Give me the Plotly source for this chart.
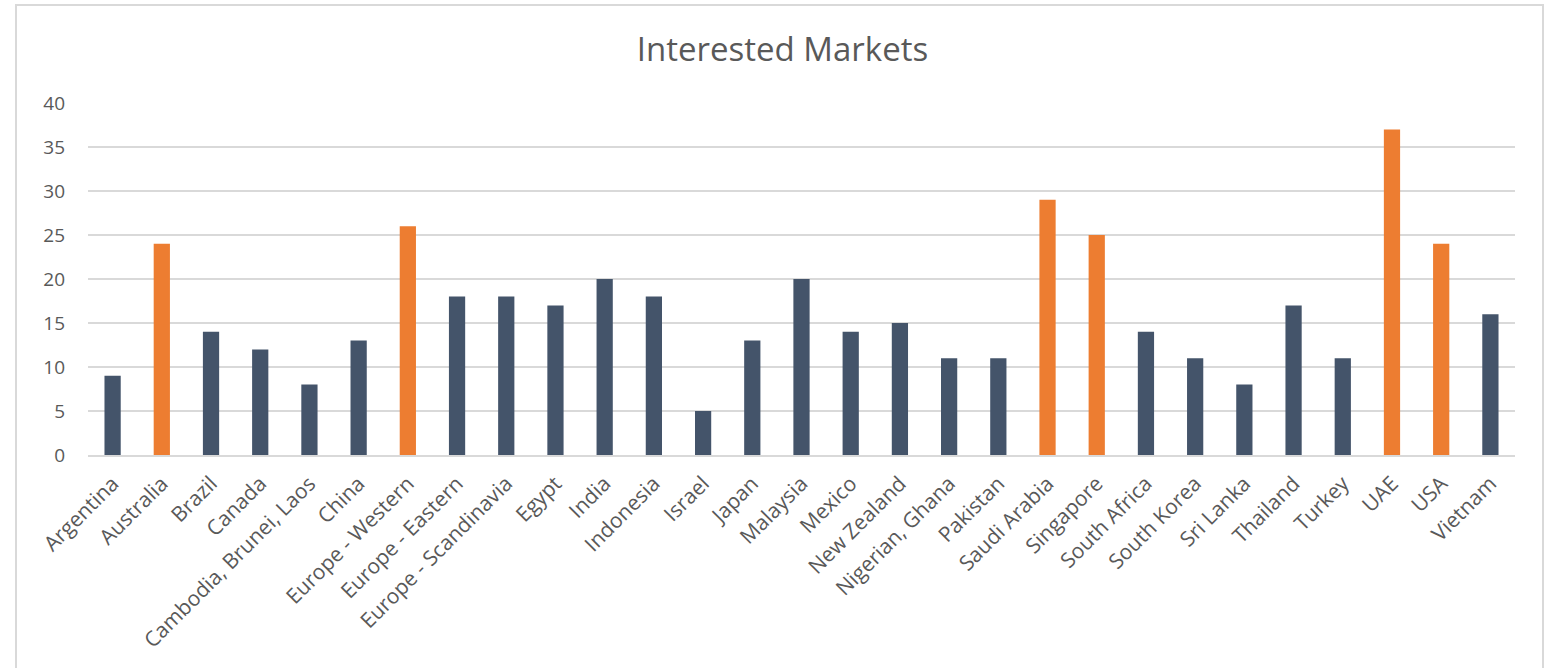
import plotly.graph_objects as go

markets = [
    "Argentina", "Australia", "Brazil", "Canada", "Cambodia, Brunei, Laos",
    "China", "Europe - Western", "Europe - Eastern", "Europe - Scandinavia",
    "Egypt", "India", "Indonesia", "Israel", "Japan", "Malaysia", "Mexico",
    "New Zealand", "Nigerian, Ghana", "Pakistan", "Saudi Arabia", "Singapore",
    "South Africa", "South Korea", "Sri Lanka", "Thailand", "Turkey", "UAE",
    "USA", "Vietnam",
]
counts = [9, 24, 14, 12, 8, 13, 26, 18, 18, 17, 20, 18, 5, 13, 20, 14, 15,
          11, 11, 29, 25, 14, 11, 8, 17, 11, 37, 24, 16]
highlighted = ["Australia", "Europe - Western", "Saudi Arabia", "Singapore",
               "UAE", "USA"]
y_ticks = [0, 5, 10, 15, 20, 25, 30, 35, 40]

NAVY = "#44546A"
ORANGE = "#ED7D31"
TEXT = "#595959"
FONT = "Open Sans"

bar_colors = [ORANGE if m in highlighted else NAVY for m in markets]

fig = go.Figure(
    go.Bar(
        x=markets,
        y=counts,
        marker=dict(color=bar_colors, line=dict(width=0)),
        showlegend=False,
    )
)

fig.update_layout(
    width=1548,
    height=668,
    margin=dict(l=88, r=33, t=103, b=213),
    paper_bgcolor="white",
    plot_bgcolor="white",
    bargap=0.67,
    title=dict(
        text="Interested Markets",
        x=(637 + 928) / 2 / 1548,
        xanchor="center",
        y=1 - 49 / 668,
        yanchor="middle",
        font=dict(family=FONT, size=33, color=TEXT),
    ),
    font=dict(family=FONT, color=TEXT),
    shapes=[
        dict(
            type="rect", xref="paper", yref="paper",
            x0=-72 / 1427, x1=(1543 - 88) / 1427,
            y0=-300 / 352, y1=(455 - 5) / 352,
            line=dict(color="#D9D9D9", width=2),
            fillcolor="rgba(0,0,0,0)",
            layer="below",
        )
    ],
)

fig.update_xaxes(
    tickangle=-45,
    tickfont=dict(family=FONT, size=21, color=TEXT),
    showgrid=False,
    showline=True,
    linecolor="#D9D9D9",
    linewidth=2,
    ticks="",
    ticklabelstandoff=6,
)
fig.update_yaxes(
    range=[0, 40],
    tickvals=y_ticks,
    tickfont=dict(family=FONT, size=19, color=TEXT),
    showgrid=True,
    gridcolor="#D9D9D9",
    gridwidth=2,
    zeroline=False,
    showline=False,
    ticks="",
    ticklabelstandoff=22,
)

fig.write_html("out.html")
